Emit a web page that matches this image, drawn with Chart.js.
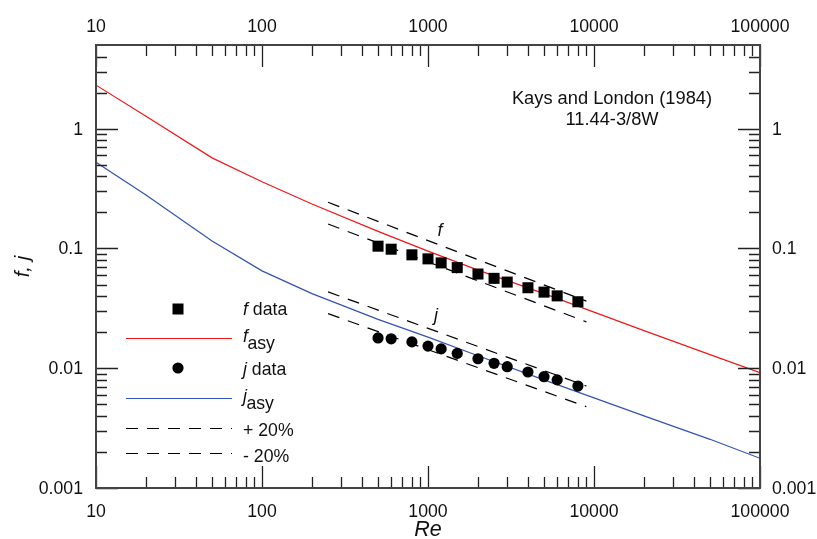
<!DOCTYPE html>
<html>
<head>
<meta charset="utf-8">
<script src="https://cdn.jsdelivr.net/npm/chart.js@4.4.0/dist/chart.umd.min.js"></script>
<style>
  body { margin: 0; background: #fff; }
  #wrap { width: 817px; height: 539px; }
</style>
</head>
<body>
<div id="wrap"><canvas id="chart"></canvas></div>
<script>
// Kays and London (1984) surface 11.44-3/8W, f and j vs Re
const reData = [500, 600, 800, 1000, 1200, 1500, 2000, 2500, 3000, 4000, 5000, 6000, 8000]
const fData = [0.1045, 0.0986, 0.0885, 0.0819, 0.0758, 0.0692, 0.0612, 0.0563, 0.0524, 0.0470, 0.0432, 0.0402, 0.0359]
const jData = [0.0179, 0.0176, 0.0166, 0.0153, 0.0145, 0.0133, 0.0120, 0.0110, 0.0103, 0.0093, 0.0085, 0.0080, 0.0071]

const reAsy = [10, 20, 50, 100, 200, 500, 1000, 2000, 5000, 10000, 20000, 50000, 100000]
const fAsy = [2.31, 1.27, 0.571, 0.361, 0.235, 0.139, 0.095, 0.066, 0.042, 0.0294, 0.0206, 0.0130, 0.0092]
const jAsy = [0.525, 0.28, 0.1156, 0.065, 0.042, 0.0256, 0.0182, 0.0127, 0.0080, 0.00565, 0.0040, 0.00255, 0.00177]

// +/- 20% bands
const reBand = [250, 9000]
const fPlus = [0.243, 0.0363]
const fMinus = [0.160, 0.0244]
const jPlus = [0.0434, 0.00711]
const jMinus = [0.0286, 0.00477]

const xTickLabels = ['10', '100', '1000', '10000', '100000']
const yTickLabels = ['0.001', '0.01', '0.1', '1']
const noteLines = ['Kays and London (1984)', '11.44-3/8W']

const FONT = '"Liberation Sans", Arial, sans-serif'
const RED = '#f01818'
const BLUE = '#3352b4'

function pts( xs, ys ) {
  return xs.map( ( x, i ) => ( { x: x, y: ys[i] } ) )
}

function band( ys ) {
  return {
    data: pts( reBand, ys ),
    showLine: true,
    borderColor: '#000',
    borderWidth: 1.2,
    borderDash: [12, 9],
    pointRadius: 0,
  }
}

// italic main letter followed by plain text (optionally dropped as subscript)
function mixedText( ctx, x, y, main, rest, sub, size ) {
  ctx.font = `italic ${size}px ${FONT}`
  ctx.fillText( main, x, y )
  const w = ctx.measureText( main ).width
  ctx.font = `${size}px ${FONT}`
  if ( sub ) ctx.fillText( rest, x + w - 0.5, y + 7 )
  else ctx.fillText( rest, x + w, y )
}

const decorations = {
  id: 'decorations',
  afterDraw( chart ) {
    const { ctx, chartArea: a, scales: { x, y } } = chart
    ctx.save()

    // inward ticks on all four sides
    ctx.strokeStyle = '#222'
    ctx.lineWidth = 1.3
    ctx.beginPath()
    for ( let e = 1; e <= 5; e++ ) {
      for ( let m = 1; m < 10; m++ ) {
        const v = m * Math.pow( 10, e )
        if ( v > x.max ) break
        const px = Math.round( x.getPixelForValue( v ) ) + 0.5
        const len = m === 1 ? 22 : 11
        ctx.moveTo( px, a.bottom ); ctx.lineTo( px, a.bottom - len )
        ctx.moveTo( px, a.top ); ctx.lineTo( px, a.top + len )
      }
    }
    for ( let e = -3; e <= 0; e++ ) {
      for ( let m = 1; m < 10; m++ ) {
        const v = m * Math.pow( 10, e )
        if ( v >= y.max ) break
        const py = Math.round( y.getPixelForValue( v ) ) + 0.5
        const len = m === 1 ? 22 : 11
        ctx.moveTo( a.left, py ); ctx.lineTo( a.left + len, py )
        ctx.moveTo( a.right, py ); ctx.lineTo( a.right - len, py )
      }
    }
    ctx.stroke()

    ctx.strokeStyle = '#444'
    ctx.lineWidth = 2
    ctx.strokeRect( a.left, a.top, a.right - a.left, a.bottom - a.top )

    // tick labels
    ctx.fillStyle = '#111'
    ctx.font = `17.7px ${FONT}`
    ctx.textAlign = 'center'
    ctx.textBaseline = 'alphabetic'
    xTickLabels.forEach( ( lab ) => {
      const px = x.getPixelForValue( Number( lab ) )
      ctx.fillText( lab, px, 32 )
      ctx.fillText( lab, px, 517 )
    } )
    ctx.textBaseline = 'middle'
    yTickLabels.forEach( ( lab ) => {
      const py = y.getPixelForValue( Number( lab ) ) + 1
      ctx.textAlign = 'right'
      ctx.fillText( lab, a.left - 13, py )
      ctx.textAlign = 'left'
      ctx.fillText( lab, a.right + 12, py )
    } )

    // axis titles
    ctx.textBaseline = 'alphabetic'
    ctx.textAlign = 'center'
    ctx.font = `italic 21.5px ${FONT}`
    ctx.fillText( 'Re', ( a.left + a.right ) / 2, 536 )
    ctx.save()
    ctx.translate( 29, ( a.top + a.bottom ) / 2 )
    ctx.rotate( -Math.PI / 2 )
    ctx.font = `italic 20.5px ${FONT}`
    ctx.fillText( 'f, j', 0, 0 )
    ctx.restore()

    // note
    ctx.font = `18.3px ${FONT}`
    ctx.fillText( noteLines[0], 612, 104 )
    ctx.fillText( noteLines[1], 612, 125 )

    // curve labels
    ctx.font = `italic 18px ${FONT}`
    ctx.fillText( 'f', 440, 236 )
    ctx.fillText( 'j', 436, 321 )

    // legend
    ctx.textAlign = 'left'
    const tx = 243
    ctx.fillStyle = '#000'
    ctx.fillRect( 172.5, 303.5, 11, 11 )
    ctx.beginPath()
    ctx.arc( 178, 368, 5.6, 0, Math.PI * 2 )
    ctx.fill()

    ctx.lineWidth = 1.2
    ctx.strokeStyle = RED
    ctx.beginPath(); ctx.moveTo( 126, 338.5 ); ctx.lineTo( 232, 338.5 ); ctx.stroke()
    ctx.strokeStyle = BLUE
    ctx.beginPath(); ctx.moveTo( 126, 398.5 ); ctx.lineTo( 232, 398.5 ); ctx.stroke()
    ctx.strokeStyle = '#000'
    ctx.setLineDash( [12, 9] )
    ctx.beginPath(); ctx.moveTo( 126, 428.5 ); ctx.lineTo( 232, 428.5 ); ctx.stroke()
    ctx.beginPath(); ctx.moveTo( 126, 453.5 ); ctx.lineTo( 232, 453.5 ); ctx.stroke()
    ctx.setLineDash( [] )

    ctx.fillStyle = '#111'
    mixedText( ctx, tx, 315, 'f', ' data', false, 17.7 )
    mixedText( ctx, tx, 342, 'f', 'asy', true, 17.7 )
    mixedText( ctx, tx, 375, 'j', ' data', false, 17.7 )
    mixedText( ctx, tx, 402, 'j', 'asy', true, 17.7 )
    ctx.font = `17.7px ${FONT}`
    ctx.fillText( '+ 20%', tx, 436 )
    ctx.fillText( '- 20%', tx, 462 )

    ctx.restore()
  }
}

new Chart( document.getElementById( 'chart' ), {
  type: 'scatter',
  data: {
    datasets: [
      {
        data: pts( reData, fData ),
        pointStyle: 'rect',
        pointRadius: 7.8,
        backgroundColor: '#000',
        borderWidth: 0,
      },
      {
        data: pts( reData, jData ),
        pointStyle: 'circle',
        pointRadius: 5.6,
        backgroundColor: '#000',
        borderWidth: 0,
      },
      band( fPlus ),
      band( fMinus ),
      band( jPlus ),
      band( jMinus ),
      {
        data: pts( reAsy, fAsy ),
        showLine: true,
        borderColor: RED,
        borderWidth: 1.2,
        pointRadius: 0,
      },
      {
        data: pts( reAsy, jAsy ),
        showLine: true,
        borderColor: BLUE,
        borderWidth: 1.2,
        pointRadius: 0,
      },
    ],
  },
  options: {
    responsive: true,
    maintainAspectRatio: false,
    animation: false,
    layout: { padding: { left: 96, right: 57, top: 45, bottom: 51 } },
    plugins: {
      legend: { display: false },
      tooltip: { enabled: false },
    },
    scales: {
      x: { type: 'logarithmic', min: 10, max: 100000, display: false },
      y: { type: 'logarithmic', min: 0.001, max: 5, display: false },
    },
  },
  plugins: [decorations],
} )
</script>
</body>
</html>
